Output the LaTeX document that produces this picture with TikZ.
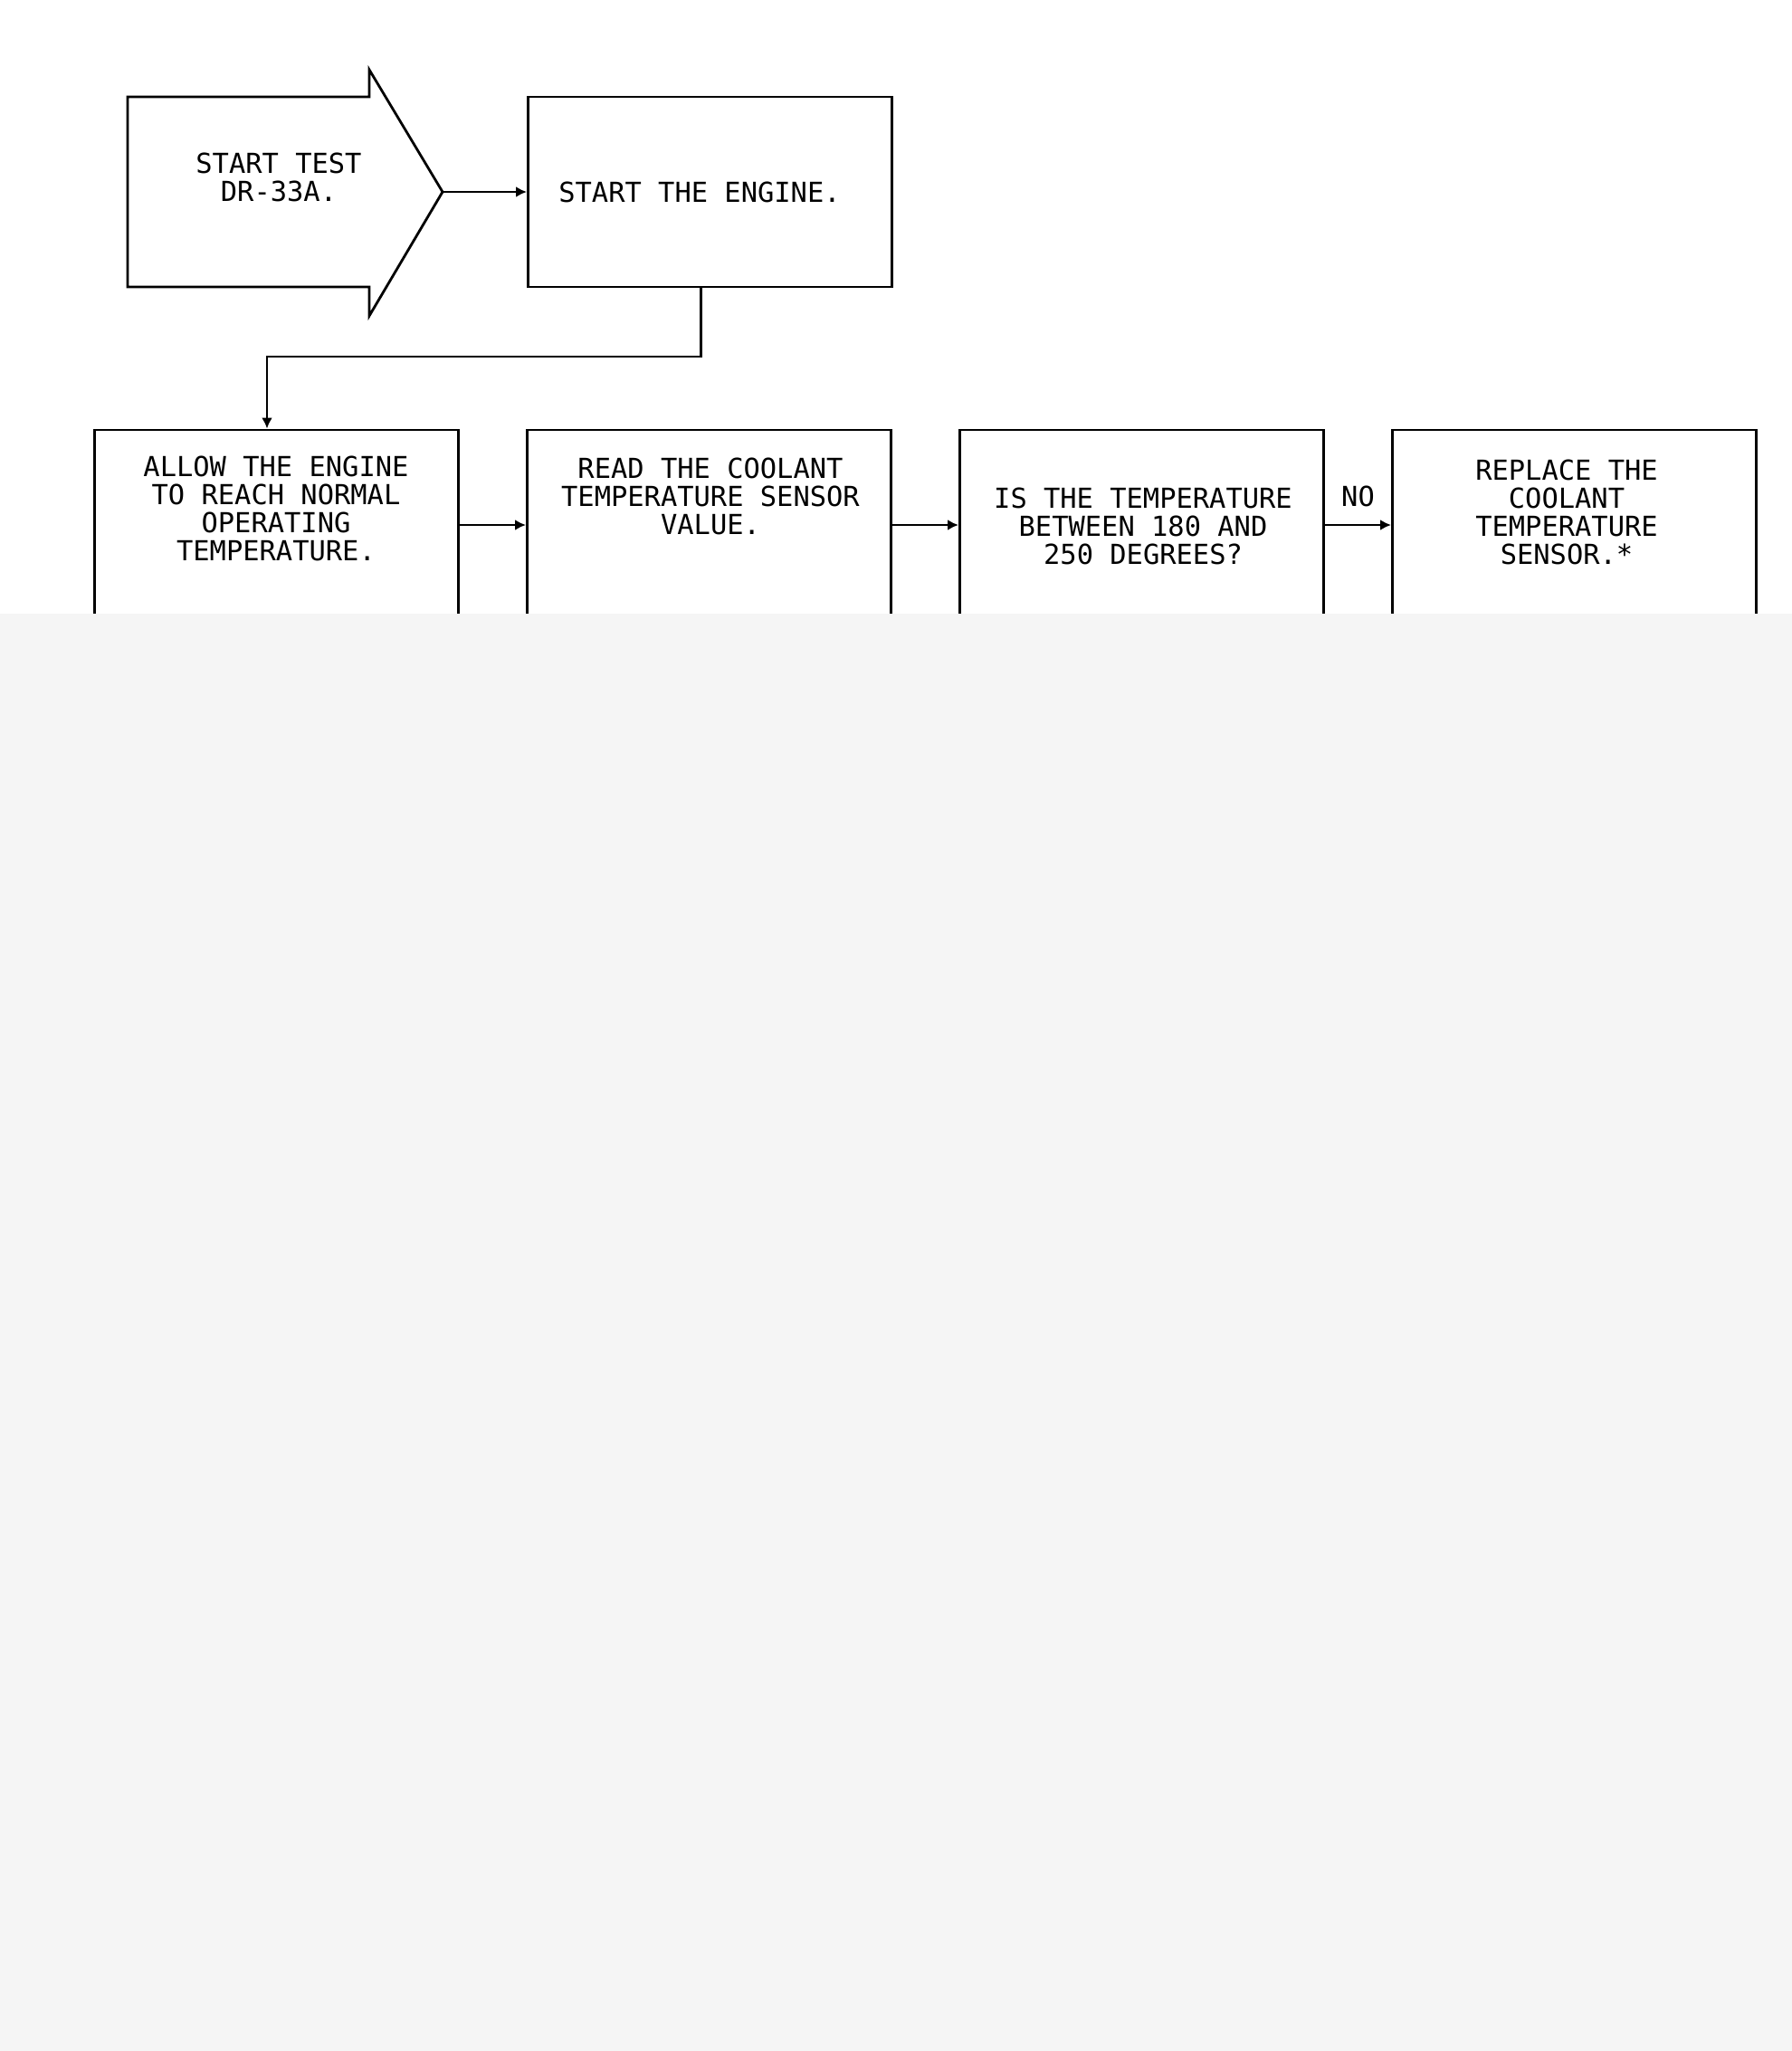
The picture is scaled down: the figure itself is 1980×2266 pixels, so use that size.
\documentclass[tikz,border=0pt]{standalone}
\usepackage{fontspec}
\newfontfamily\plotterfont{DejaVu Sans Mono}
\usetikzlibrary{arrows.meta}

\begin{document}
\begin{tikzpicture}[>={Latex[length=3.4pt,width=3.4pt]}, x=0.01cm, y=-0.01cm,
    connection/.style={draw=black,line width=0.8pt,->},
	processStep/.style={rectangle,inner sep=0pt,minimum height=2.1cm,minimum width=4.02cm,draw=black,line width=0.8pt},
	stepText/.style={inner sep=0pt,align=center,font=\plotterfont\fontsize{8.65}{8.8}\selectfont},
]

	\def\rowA{212};
	\def\rowB{580};

	\useasboundingbox (0,0) rectangle (1980,2266);

	% start arrow
	\draw[line width=0.8pt] (141,107) -- (408,107) -- (408,77) -- (489,\rowA) coordinate(tip)
		-- (408,349) -- (408,317) -- (141,317) -- cycle;
	\node[stepText](startText) at (308,196){START TEST\\DR-33A.};

	\node[processStep](engine) at (784.5,\rowA){};
	\node[stepText](engineText) at (773,\rowA){START THE ENGINE.};

	\node[processStep](allow) at (305.5,\rowB){};
	\node[processStep](read) at (783.5,\rowB){};
	\node[processStep](check) at (1261.5,\rowB){};
	\node[processStep](replace) at (1739.5,\rowB){};

	\node[stepText](allowText) at (305,562){ALLOW THE ENGINE\\TO REACH NORMAL\\OPERATING\\TEMPERATURE.};
	\node[stepText](readText) at (785,548){READ THE COOLANT\\TEMPERATURE SENSOR\\VALUE.};
	\node[stepText](checkText) at (1263,581){IS THE TEMPERATURE\\BETWEEN 180 AND\\250 DEGREES?};
	\node[stepText](replaceText) at (1731,566){REPLACE THE\\COOLANT\\TEMPERATURE\\SENSOR.*};

	\coordinate (bend) at (295,394);

	\draw[connection](tip)--(engine);
	\draw[connection]([xshift=-0.1cm]engine.south)|-(bend)--(bend |- allow.north);
	\draw[connection](allow)--(read);
	\draw[connection](read)--(check);
	\draw[connection](check)--node[stepText,above=0.19cm]{NO}(replace);

	% lower part of the sheet
	\fill[black!4] (0,678) rectangle (1980,2266);

\end{tikzpicture}
\end{document}
